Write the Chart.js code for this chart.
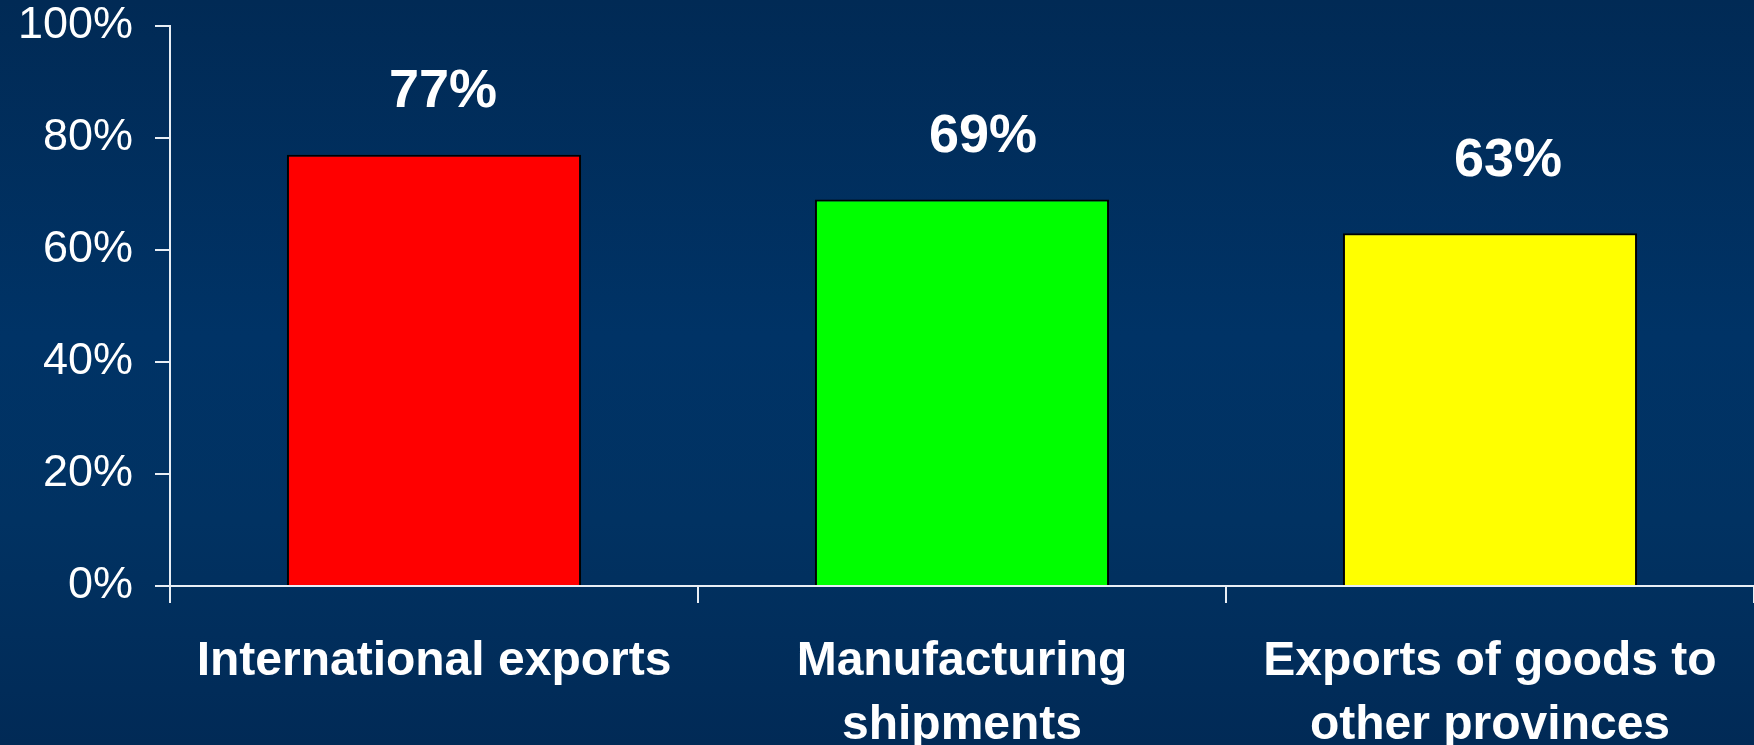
<!DOCTYPE html>
<html>
<head>
<meta charset="utf-8">
<script src="https://cdn.jsdelivr.net/npm/chart.js@4/dist/chart.umd.min.js"></script>
<style>
  html, body { margin: 0; padding: 0; }
  body {
    width: 1754px; height: 745px; overflow: hidden;
    background: linear-gradient(#012a55 0%, #003366 45%, #013262 70%, #012a56 100%);
  }
  #chart { width: 1754px; height: 745px; }
</style>
</head>
<body>
<div id="chart"><canvas id="myChart"></canvas></div>
<script>
const categories = [
    ['International exports'],
    ['Manufacturing', 'shipments'],
    ['Exports of goods to', 'other provinces']
];
const shares = [77, 69, 63];
const barColors = ['#ff0000', '#00ff00', '#ffff00'];
const yTicks = [0, 20, 40, 60, 80, 100];

// the value labels in the original sit a bit right of centre, and not all at the same height
const labelShift = [[9, 63], [21, 62], [18, 72]];

const valueLabels = {
    id: 'valueLabels',
    afterDatasetsDraw(chart) {
        const ctx = chart.ctx;
        const meta = chart.getDatasetMeta(0);
        ctx.save();
        ctx.fillStyle = '#ffffff';
        ctx.font = 'bold 54px "Liberation Sans", Arial, sans-serif';
        ctx.textAlign = 'center';
        ctx.textBaseline = 'middle';
        meta.data.forEach((bar, i) => {
            ctx.fillText(shares[i] + '%', bar.x + labelShift[i][0], bar.y - labelShift[i][1]);
        });
        ctx.restore();
    }
};

Chart.defaults.font.family = '"Liberation Sans", Arial, sans-serif';
Chart.defaults.color = '#ffffff';

const config = {
    type: 'bar',
    data: {
        labels: categories,
        datasets: [{
            data: shares,
            backgroundColor: barColors,
            borderColor: '#000000',
            borderWidth: 2,
            borderSkipped: 'bottom',
            categoryPercentage: 1,
            barPercentage: 0.557
        }]
    },
    options: {
        responsive: false,
        animation: false,
        layout: { padding: 0 },
        plugins: {
            legend: { display: false },
            tooltip: { enabled: false }
        },
        scales: {
            x: {
                offset: true,
                grid: {
                    offset: true,
                    drawOnChartArea: false,
                    drawTicks: true,
                    tickLength: 17,
                    color: '#e8eef5',
                    lineWidth: 2
                },
                border: { color: '#e8eef5', width: 2 },
                ticks: {
                    color: '#ffffff',
                    padding: 27,
                    maxRotation: 0,
                    autoSkip: false,
                    font: { size: 48, weight: 'bold', lineHeight: 1.33 }
                },
                afterFit(scale) {
                    scale.height = 159;
                    scale.paddingLeft = 0;
                    scale.paddingRight = 0;
                }
            },
            y: {
                min: 0,
                max: 100,
                afterBuildTicks(scale) {
                    scale.ticks = yTicks.map(v => ({ value: v }));
                },
                grid: {
                    drawOnChartArea: false,
                    drawTicks: true,
                    tickLength: 15,
                    color: '#e8eef5',
                    lineWidth: 2
                },
                border: { color: '#e8eef5', width: 2 },
                ticks: {
                    color: '#ffffff',
                    padding: 22,
                    font: { size: 45 },
                    callback: v => v + '%'
                },
                afterFit(scale) {
                    scale.width = 170;
                    scale.paddingTop = 26;
                    scale.paddingBottom = 0;
                }
            }
        }
    },
    plugins: [valueLabels]
};

const canvas = document.getElementById('myChart');
canvas.width = 1754;
canvas.height = 745;
new Chart(canvas, config);
</script>
</body>
</html>
